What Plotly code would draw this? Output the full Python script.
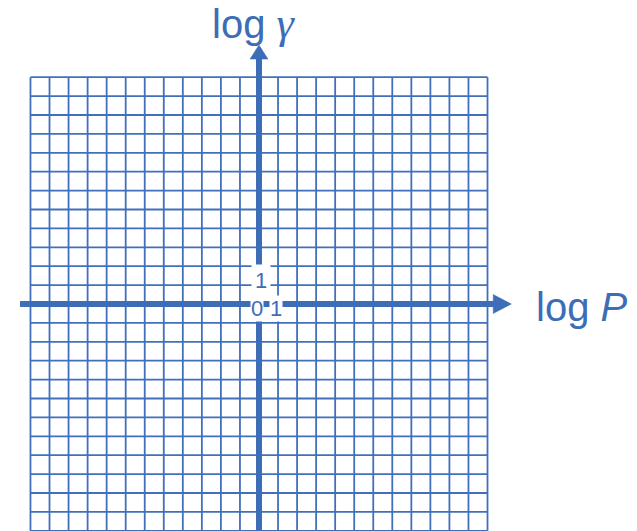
import plotly.graph_objects as go

# Grid extent in axis units (cells on each side of the origin)
GRID_HALF = 12
grid_ticks = list(range(-GRID_HALF, GRID_HALF + 1))

# Axis arrows: shaft start, head base, head tip (axis units)
x_arrow = {"start": -12.55, "base": 12.3, "tip": 13.25, "half_width": 0.5}
y_arrow = {"start": -12.5, "base": 12.96, "tip": 13.7, "half_width": 0.47}

# Tick labels around the origin: (text, x, y, padding)
tick_labels = [("1", 0.08, 1.22, 3), ("0", -0.12, -0.25, 0), ("1", 0.88, -0.25, 0)]

BLUE = "#3C6DB6"
GRID_BLUE = "#4070BB"
FONT = "Liberation Sans, Arial, sans-serif"

fig = go.Figure()

# Square grid
gx, gy = [], []
for t in grid_ticks:
    gx += [t, t, None]
    gy += [-GRID_HALF, GRID_HALF, None]
    gx += [-GRID_HALF, GRID_HALF, None]
    gy += [t, t, None]
fig.add_trace(go.Scatter(x=gx, y=gy, mode="lines",
                         line=dict(color=GRID_BLUE, width=1.8),
                         hoverinfo="skip", showlegend=False))

# Horizontal axis (log P)
fig.add_trace(go.Scatter(x=[x_arrow["start"], x_arrow["base"] + 0.05], y=[0, 0],
                         mode="lines", line=dict(color=BLUE, width=6),
                         hoverinfo="skip", showlegend=False))
fig.add_trace(go.Scatter(
    x=[x_arrow["base"], x_arrow["tip"], x_arrow["base"], x_arrow["base"]],
    y=[x_arrow["half_width"], 0, -x_arrow["half_width"], x_arrow["half_width"]],
    mode="lines", fill="toself", fillcolor=BLUE, line=dict(color=BLUE, width=0.5),
    hoverinfo="skip", showlegend=False))

# Vertical axis (log gamma)
fig.add_trace(go.Scatter(x=[0, 0], y=[y_arrow["start"], y_arrow["base"] + 0.05],
                         mode="lines", line=dict(color=BLUE, width=6),
                         hoverinfo="skip", showlegend=False))
fig.add_trace(go.Scatter(
    x=[-y_arrow["half_width"], 0, y_arrow["half_width"], -y_arrow["half_width"]],
    y=[y_arrow["base"], y_arrow["tip"], y_arrow["base"], y_arrow["base"]],
    mode="lines", fill="toself", fillcolor=BLUE, line=dict(color=BLUE, width=0.5),
    hoverinfo="skip", showlegend=False))

# Tick labels on white patches
for text, x, y, pad in tick_labels:
    fig.add_annotation(x=x, y=y, text=text, showarrow=False,
                       font=dict(family=FONT, size=22, color=BLUE),
                       bgcolor="white", borderpad=pad,
                       xanchor="center", yanchor="middle")

# Axis titles
fig.add_annotation(x=-2.55, y=14.85,
                   text="log <span style='font-family:Liberation Serif, Times New Roman, serif;font-size:44px'><i>γ</i></span>",
                   showarrow=False, font=dict(family=FONT, size=40, color=BLUE),
                   xanchor="left", yanchor="middle")
fig.add_annotation(x=14.45, y=-0.15, text="log <i>P</i>",
                   showarrow=False, font=dict(family=FONT, size=40, color=BLUE),
                   xanchor="left", yanchor="middle")

fig.update_xaxes(range=[-13.6, 19.85], visible=False, fixedrange=True)
fig.update_yaxes(range=[-12.01, 16.085], visible=False, fixedrange=True)
fig.update_layout(width=637, height=531, margin=dict(l=0, r=0, t=0, b=0),
                  paper_bgcolor="white", plot_bgcolor="white", showlegend=False)

fig.write_html("out.html")
